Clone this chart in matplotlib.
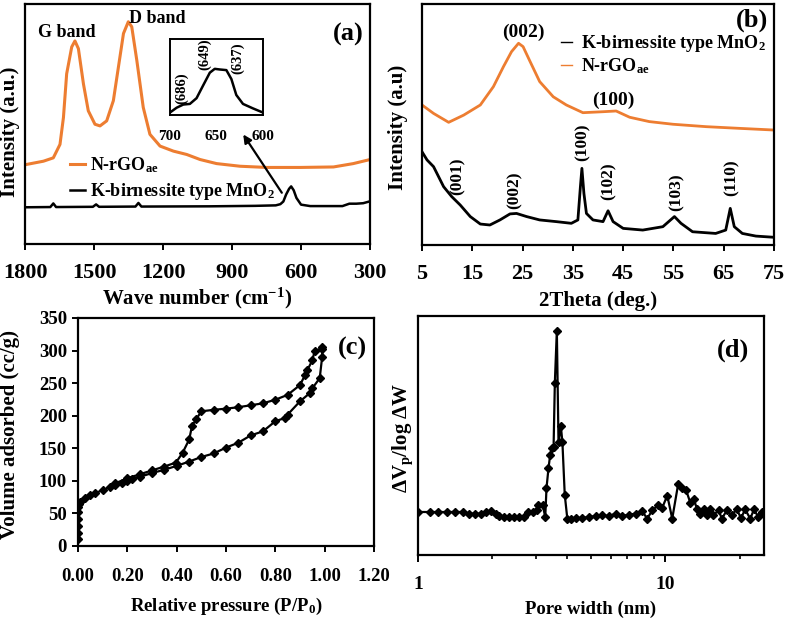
import matplotlib
matplotlib.use('Agg')
import matplotlib.pyplot as plt
from matplotlib.ticker import FixedLocator, FixedFormatter, NullFormatter

plt.rcParams['font.family'] = ['Liberation Serif', 'DejaVu Serif']
plt.rcParams['font.weight'] = 'bold'
plt.rcParams['axes.labelweight'] = 'bold'
plt.rcParams['mathtext.fontset'] = 'custom'
plt.rcParams['mathtext.rm'] = 'Liberation Serif:bold'
plt.rcParams['mathtext.it'] = 'Liberation Serif:bold'
plt.rcParams['mathtext.bf'] = 'Liberation Serif:bold'
plt.rcParams['mathtext.default'] = 'rm'

ORANGE = '#ED7D31'

# (a) Raman spectra
raman_nrgo_w = [1796, 1720, 1677, 1648, 1633, 1619, 1597, 1583, 1568, 1546, 1525, 1496, 1474,
                1445, 1416, 1394, 1372, 1351, 1336, 1314, 1286, 1257, 1213, 1155, 1097, 1039,
                967, 865, 749, 604, 459, 373, 300]
raman_nrgo_i = [33.1, 34.5, 35.9, 41.5, 52.7, 70.9, 82.1, 84.6, 81.4, 66.7, 55.5, 49.9, 49.2,
                51.3, 59.7, 73.7, 87.7, 92.6, 90.5, 76.5, 56.9, 45.7, 40.8, 38.7, 37.3, 35.2,
                33.5, 32.4, 31.9, 31.9, 32.1, 33.5, 35.2]
raman_mno2_w = [1800, 1690, 1677, 1665, 1505, 1491, 1478, 1320, 1307, 1294, 1000, 800, 710,
                690, 677, 665, 652, 643, 632, 620, 600, 560, 420, 390, 360, 330, 300]
raman_mno2_i = [15.3, 15.4, 16.9, 15.4, 15.5, 16.5, 15.5, 15.6, 17.1, 15.6, 15.7, 15.9, 16.1,
                16.6, 17.7, 20.6, 23.0, 24.0, 22.4, 19.2, 16.4, 15.8, 15.8, 16.8, 16.8, 17.0, 17.8]
inset_w = [700, 692.9, 685.7, 678.6, 671.4, 664.3, 657.1, 651.8, 646.4, 639.3, 633.9, 628.6,
           621.4, 610.7, 600]
inset_i = [0, 15, 25, 27, 45, 85, 125, 137, 135, 133, 105, 55, 27, 13, 0]

# (b) XRD patterns
xrd_nrgo_t = [5, 7.3, 10.3, 13.3, 16.6, 19.2, 21.2, 22.8, 24.2, 25.1, 26.5, 28.4, 31.1, 33.7,
              37.0, 41.0, 43.6, 46.3, 50.2, 54.9, 61.5, 68.1, 75]
xrd_nrgo_i = [58.1, 54.6, 50.9, 53.9, 58.1, 65.7, 74.0, 80.2, 83.7, 82.3, 76.1, 67.8, 61.5, 58.1,
              54.9, 55.3, 55.6, 53.0, 51.2, 50.1, 49.1, 48.4, 47.7]
xrd_mno2_t = [5, 6.0, 7.3, 9.3, 10.9, 12.6, 14.6, 16.6, 18.5, 20.5, 22.5, 23.8, 25.8, 28.4,
              31.7, 34.7, 36.0, 36.5, 36.8, 37.2, 37.7, 39.0, 41.0, 42.0, 43.0, 45.0, 48.9,
              52.9, 55.2, 56.5, 58.8, 63.4, 65.4, 66.3, 67.1, 68.7, 71.4, 75]
xrd_mno2_i = [38.7, 35.3, 32.5, 24.2, 20.1, 16.6, 11.8, 8.7, 8.3, 10.4, 12.9, 13.1, 11.8, 10.4,
              9.7, 9.0, 10.4, 24.2, 31.8, 21.4, 13.1, 10.4, 9.7, 14.2, 9.7, 6.9, 6.2,
              7.6, 11.8, 9.0, 5.5, 4.8, 6.2, 15.2, 7.6, 4.8, 3.7, 3.2]
xrd_peaks = ['(001)', '(002)', '(100)', '(102)', '(103)', '(110)']

# (c) N2 isotherm
p_ads = [0.0, 0.0, 0.0, 0.0, 0.0, 0.0, 0.005, 0.01, 0.03, 0.05, 0.07, 0.10, 0.13, 0.15, 0.18,
         0.20, 0.22, 0.25, 0.30, 0.35, 0.40, 0.45, 0.50, 0.55, 0.60, 0.65, 0.70, 0.75, 0.80,
         0.84, 0.85, 0.90, 0.94, 0.95, 0.98, 0.99, 0.99]
v_ads = [10, 20, 30, 42, 52, 60, 65, 68, 73, 78, 81, 86, 90, 93, 97,
         100, 103, 106, 112, 117, 123, 129.5, 136.6, 142, 151, 158.5, 169.7, 176, 191.5,
         196.6, 201.7, 222, 234.7, 242, 257.6, 290.6, 305]
p_des = [0.99, 0.96, 0.95, 0.93, 0.92, 0.90, 0.85, 0.80, 0.75, 0.70, 0.65, 0.60, 0.55, 0.50,
         0.48, 0.462, 0.451, 0.424, 0.397, 0.35, 0.30, 0.25, 0.20, 0.15]
v_des = [303, 300, 285, 270, 262, 247, 232, 224.5, 219, 216, 213, 210.8, 209, 206.7,
         195, 184, 163.6, 143, 128, 122, 116, 110, 104, 96]

# (d) pore size distribution
pore_w = [1.0, 1.114, 1.204, 1.308, 1.413, 1.517, 1.615, 1.707, 1.799, 1.885, 1.974, 2.067,
          2.133, 2.233, 2.337, 2.451, 2.565, 2.688, 2.772, 2.903, 3.013, 3.062, 3.187, 3.268,
          3.306, 3.368, 3.42, 3.476, 3.531, 3.573, 3.640, 3.697, 3.778, 3.834, 3.918, 4.013,
          4.142, 4.343, 4.616, 4.91, 5.23, 5.55, 5.91, 6.29, 6.69, 7.12, 7.58, 8.06, 8.44,
          8.84, 9.34, 9.70, 10.17, 10.65, 11.26, 11.69, 12.13, 12.6, 13.0, 13.4, 13.8, 14.3,
          14.7, 15.2, 15.6, 16.4, 16.9, 17.7, 18.5, 19.4, 20.2, 21.0, 22.0, 22.8, 23.7, 24.5]
pore_dv = [18.0, 18.0, 18.0, 18.0, 18.0, 18.0, 17.3, 17.3, 17.3, 18.0, 18.6, 17.3,
           16.3, 15.7, 15.7, 15.7, 15.7, 15.7, 18.0, 18.0, 18.7, 21.1, 21.1, 15.9,
           28.0, 36.3, 41.8, 44.6, 45.0, 72.0, 93.9, 47.1, 54.0, 47.1, 25.2, 15.2,
           15.2, 15.5, 15.5, 15.9, 16.3, 16.6, 16.3, 17.3, 16.3, 16.9, 17.3, 18.3, 15.2,
           18.7, 20.8, 19.7, 24.9, 15.2, 29.8, 28.0, 27.0, 21.9, 23.5, 19.4, 17.3, 19.4,
           16.6, 19.1, 16.6, 18.7, 15.2, 18.7, 16.6, 19.1, 15.5, 19.1, 15.2, 19.1, 15.9, 18.0]

fig = plt.figure(figsize=(7.87, 6.22), dpi=100)


def style(ax, size, pad):
    for s in ax.spines.values():
        s.set_linewidth(1.6)
    ax.tick_params(direction='out', length=4, width=1.4, labelsize=size, pad=pad)


# ---------- (a)
ax1 = fig.add_axes([0.0318, 0.6077, 0.4384, 0.3859])
ax1.plot(raman_nrgo_w, raman_nrgo_i, color=ORANGE, lw=2.2, label='N-rGO$_{\\rm ae}$')
ax1.plot(raman_mno2_w, raman_mno2_i, color='black', lw=1.8, label='K-birnessite type MnO$_{\\rm 2}$')
ax1.set_xlim(1800, 300)
ax1.set_ylim(0, 100)
ax1.set_xticks([1800, 1500, 1200, 900, 600, 300])
ax1.set_yticks([])
style(ax1, 16, 10)
ax1.set_xlabel('Wave number (cm$^{{-}1}$)', fontsize=15, labelpad=2)
ax1.set_ylabel('Intensity (a.u.)', fontsize=15)
ax1.yaxis.set_label_coords(-0.015, 0.467)
ax1.legend(loc='upper left', bbox_to_anchor=(0.11, 0.40), frameon=False, fontsize=13,
           handlelength=0.8, handletextpad=0.3, labelspacing=0.35, borderaxespad=0)
ax1.text(0.122, 0.883, 'G band', transform=ax1.transAxes, ha='center', va='center', fontsize=13)
ax1.text(0.383, 0.94, 'D band', transform=ax1.transAxes, ha='center', va='center', fontsize=13)
ax1.text(0.936, 0.871, '(a)', transform=ax1.transAxes, ha='center', va='center', fontsize=19)
ax1.annotate('', xy=(858, 46.6), xytext=(677, 20.4),
             arrowprops=dict(arrowstyle='-|>', color='black', lw=1.6, mutation_scale=12))

axi = fig.add_axes([0.216, 0.815, 0.118, 0.122])
axi.plot(inset_w, inset_i, color='black', lw=1.8)
axi.set_xlim(700, 600)
axi.set_ylim(-8, 230)
axi.set_xticks([700, 650, 600])
axi.set_yticks([])
for s in axi.spines.values():
    s.set_linewidth(1.4)
axi.tick_params(length=0, labelsize=11, pad=11)
for lab, xy in zip(['(686)', '(649)', '(637)'], [(0.13, 0.355), (0.376, 0.80), (0.73, 0.75)]):
    axi.text(xy[0], xy[1], lab, transform=axi.transAxes, rotation=90, ha='center', va='center',
             fontsize=10.5)

# ---------- (b)
ax2 = fig.add_axes([0.5362, 0.6061, 0.4473, 0.3875])
ax2.plot(xrd_mno2_t, xrd_mno2_i, color='black', lw=2.0, label='K-birnessite type MnO$_{\\rm 2}$')
ax2.plot(xrd_nrgo_t, xrd_nrgo_i, color=ORANGE, lw=2.0, label='N-rGO$_{\\rm ae}$')
ax2.set_xlim(5, 75)
ax2.set_ylim(0, 100)
ax2.set_xticks(range(5, 76, 10))
ax2.set_yticks([])
style(ax2, 16, 10)
ax2.set_xlabel('2Theta (deg.)', fontsize=15, labelpad=5)
ax2.set_ylabel('Intensity (a.u)', fontsize=15)
ax2.yaxis.set_label_coords(-0.04, 0.49)
leg = ax2.legend(loc='upper left', bbox_to_anchor=(0.375, 0.91), frameon=False, fontsize=13,
                 handlelength=0.6, handletextpad=0.5, labelspacing=0.15, borderaxespad=0)
for h in leg.get_lines():
    h.set_linewidth(1.0)
ax2.text(0.9375, 0.934, '(b)', transform=ax2.transAxes, ha='center', va='center', fontsize=19)
ax2.text(0.287, 0.884, '(002)', transform=ax2.transAxes, ha='center', va='center', fontsize=14)
ax2.text(0.543, 0.602, '(100)', transform=ax2.transAxes, ha='center', va='center', fontsize=14)
for lab, xy in zip(xrd_peaks, [(0.102, 0.286), (0.264, 0.228), (0.457, 0.427), (0.531, 0.266),
                               (0.724, 0.22), (0.881, 0.278)]):
    ax2.text(xy[0], xy[1], lab, transform=ax2.transAxes, rotation=90, ha='center', va='center',
             fontsize=12.5)

# ---------- (c)
ax3 = fig.add_axes([0.0991, 0.1222, 0.3761, 0.3666])
ax3.plot(p_ads + p_des, v_ads + v_des, color='black', lw=1.6, marker='D', markersize=4)
ax3.set_xlim(0, 1.2)
ax3.set_ylim(0, 350)
ax3.set_xticks([0, 0.2, 0.4, 0.6, 0.8, 1.0, 1.2])
ax3.set_xticklabels(['%.2f' % v for v in [0, 0.2, 0.4, 0.6, 0.8, 1.0, 1.2]])
ax3.set_yticks(range(0, 351, 50))
style(ax3, 13.5, 4)
ax3.tick_params(axis='x', pad=12)
ax3.set_xlabel('Relative pressure (P/P$_{\\rm 0}$)', fontsize=13.5, labelpad=8)
ax3.set_ylabel('Volume adsorbed (cc/g)', fontsize=15)
ax3.yaxis.set_label_coords(-0.195, 0.49)
ax3.text(0.926, 0.868, '(c)', transform=ax3.transAxes, ha='center', va='center', fontsize=19)

# ---------- (d)
ax4 = fig.add_axes([0.5311, 0.1077, 0.4396, 0.3842])
ax4.plot(pore_w, pore_dv, color='black', lw=1.6, marker='D', markersize=4)
ax4.set_xscale('log')
ax4.set_xlim(1, 25)
ax4.set_ylim(0, 100)
ax4.set_yticks([])
ax4.xaxis.set_major_locator(FixedLocator([1, 10]))
ax4.xaxis.set_major_formatter(FixedFormatter(['1', '10']))
ax4.xaxis.set_minor_locator(FixedLocator([2, 3, 4, 5, 6, 7, 8, 9, 20]))
ax4.xaxis.set_minor_formatter(NullFormatter())
style(ax4, 14, 10)
ax4.tick_params(which='minor', direction='out', length=3, width=1.2)
ax4.tick_params(which='major', length=5)
ax4.set_xlabel('Pore width (nm)', fontsize=13.5, labelpad=6)
ax4.set_ylabel('ΔV$_{\\rm p}$/log ΔW', fontsize=15)
ax4.yaxis.set_label_coords(-0.01, 0.49)
ax4.text(0.91, 0.858, '(d)', transform=ax4.transAxes, ha='center', va='center', fontsize=19)

fig.savefig('out.png', dpi=100)
